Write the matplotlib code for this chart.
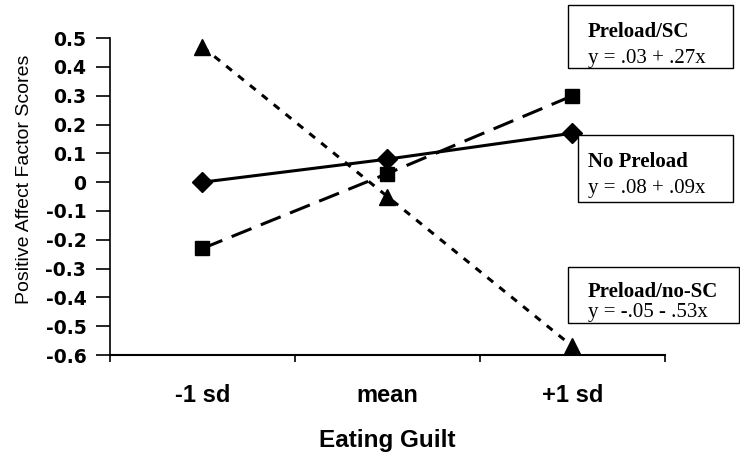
import matplotlib
matplotlib.use('Agg')
import matplotlib.pyplot as plt
from matplotlib.patches import Rectangle

CATEGORIES = ['-1 sd', 'mean', '+1 sd']
NO_PRELOAD = [0.00, 0.08, 0.17]
PRELOAD_SC = [-0.23, 0.03, 0.30]
PRELOAD_NOSC = [0.47, -0.05, -0.57]
Y_TICKS = [0.5, 0.4, 0.3, 0.2, 0.1, 0, -0.1, -0.2, -0.3, -0.4, -0.5, -0.6]
BOXES = [('Preload/SC', 'y = .03 + .27x'),
         ('No Preload', 'y = .08 + .09x'),
         ('Preload/no-SC', 'y = -.05 - .53x')]

plt.rcParams['font.family'] = ['Liberation Sans', 'DejaVu Sans']

fig = plt.figure(figsize=(7.4, 4.54), dpi=100)
ax = fig.add_axes([0.1486, 0.218, 0.75, 0.698])

xs = [i + 0.5 for i in range(len(CATEGORIES))]
ax.plot(xs, NO_PRELOAD, color='black', lw=2.2, ls='-', marker='D', ms=10, clip_on=False)
ax.plot(xs, PRELOAD_SC, color='black', lw=2.2, ls=(0, (7, 3.3)), marker='s', ms=10.5, clip_on=False)
ax.plot(xs, PRELOAD_NOSC, color='black', lw=2.2, ls=(0, (2.4, 2.6)), marker='^', ms=11, clip_on=False)

ax.set_xlim(0, 3)
ax.set_ylim(-0.6, 0.5)
ax.set_yticks(Y_TICKS)
ax.set_yticklabels([('%g' % v) for v in Y_TICKS], family='DejaVu Sans',
                   fontweight='bold', fontsize=13.5)
ax.set_xticks(xs)
ax.set_xticklabels(CATEGORIES, fontweight='bold', fontsize=17)
ax.set_xticks([0, 1, 2, 3], minor=True)
ax.tick_params(axis='x', which='major', length=0, pad=21)
ax.tick_params(axis='x', which='minor', length=5, width=1.2, direction='out')
ax.tick_params(axis='y', length=10, width=1.2, direction='out', pad=7)

for s in ['top', 'right']:
    ax.spines[s].set_visible(False)
ax.spines['left'].set_linewidth(1.2)
ax.spines['bottom'].set_linewidth(1.5)

ax.set_ylabel('Positive Affect Factor Scores', fontsize=14)
ax.yaxis.set_label_coords(-0.139, 0.555)
ax.set_xlabel('Eating Guilt', fontsize=17.5, fontweight='bold', labelpad=16)

# boxes with regression equations (pixel layout: x0, y_top, x1, y_bottom, title baseline, eq baseline)
W, H = 740.0, 454.0
box_px = [(568, 5, 733, 68, 37, 63),
          (578, 135, 733, 202, 167, 193),
          (568, 267, 739, 323, 297, 317)]
for (title, eq), (x0, y0, x1, y1, tb, eb) in zip(BOXES, box_px):
    fig.add_artist(Rectangle((x0 / W, 1 - y1 / H), (x1 - x0) / W, (y1 - y0) / H,
                             transform=fig.transFigure, facecolor='white',
                             edgecolor='black', lw=1.0, zorder=5))
    fig.text(588 / W, 1 - tb / H, title, family='Liberation Serif',
             fontweight='bold', fontsize=15, va='baseline', zorder=6)
    fig.text(588 / W, 1 - eb / H, eq, family='Liberation Serif',
             fontsize=15, va='baseline', zorder=6)

fig.savefig('out.png', dpi=100)
